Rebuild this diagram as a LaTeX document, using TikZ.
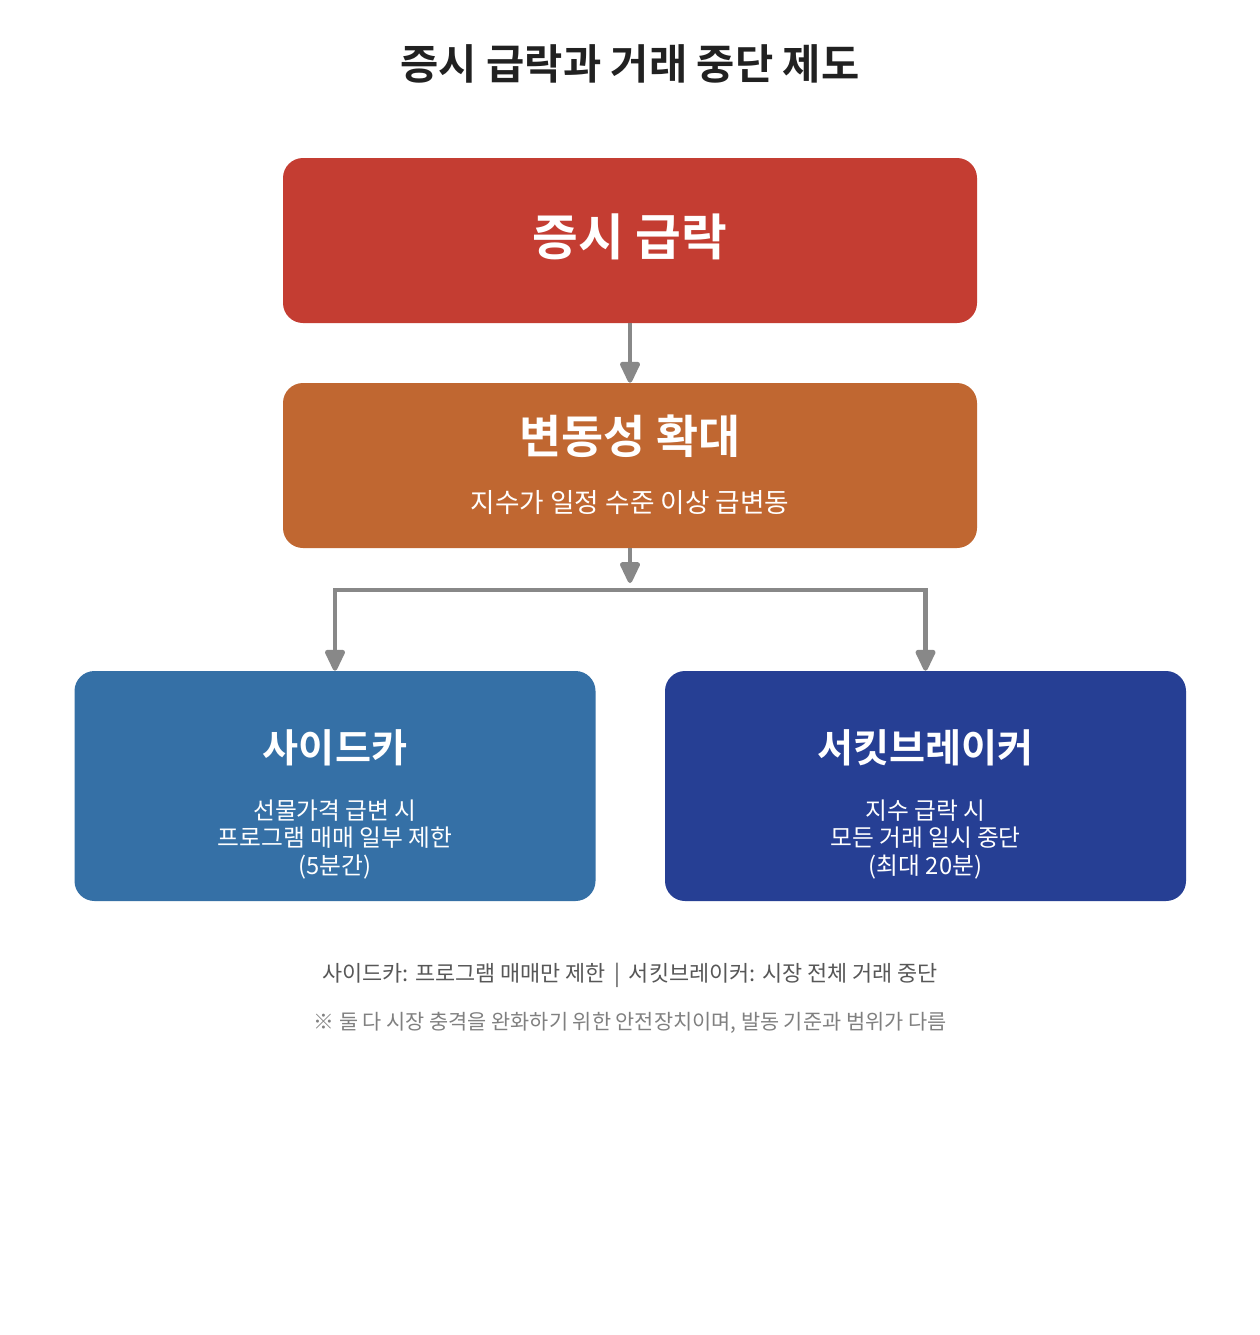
\documentclass[tikz,border=0pt]{standalone}
\usepackage{fontspec}
\setmainfont{Noto Sans CJK KR}[BoldFont={Noto Sans CJK KR Bold}]
\usepackage{tikz}
\usetikzlibrary{positioning, arrows.meta}
\definecolor{rojo}{HTML}{C43D32}
\definecolor{naranja}{HTML}{C06731}
\definecolor{azul}{HTML}{3570A6}
\definecolor{marino}{HTML}{263F94}
\definecolor{gris}{HTML}{888888}
\tikzset{flecha/.style={line width=3.3pt, draw=gris, -{Triangle[length=18pt, width=16pt, round]}}}
\tikzset{caja/.style={rectangle, rounded corners=15pt, draw=none, minimum width=520.5pt, minimum height=123.75pt}}
\tikzset{cajita/.style={rectangle, rounded corners=15pt, draw=none, minimum width=390.75pt, minimum height=172.5pt}}
\tikzset{texto/.style={text=white, align=center, inner sep=0pt}}

\begin{document}
\begin{tikzpicture}[
            x = 0.75pt,
            y = -0.75pt
        ]
            \useasboundingbox[fill=white] (0,0) rectangle (1260,1335);

            % titulo
            \node[inner sep=0pt, text=black!87, font=\fontsize{31.2pt}{36pt}\selectfont\bfseries] (titulo) at (630,64) {증시 급락과 거래 중단 제도};

            % cajas
            \node[caja, fill=rojo] (caida) at (630,240.5) {};
            \node[caja, fill=naranja] (volatil) at (630,465.5) {};
            \node[cajita, fill=azul] (sidecar) at (335,786) {};
            \node[cajita, fill=marino] (circuito) at (925.5,786) {};

            \node[texto, font=\fontsize{37.3pt}{44pt}\selectfont\bfseries] (caidat) at (630,237) {증시 급락};
            \node[texto, font=\fontsize{34.3pt}{40pt}\selectfont\bfseries] (volatilt) at (630,436) {변동성 확대};
            \node[texto, font=\fontsize{20pt}{24pt}\selectfont] (volatils) at (630,503) {지수가 일정 수준 이상 급변동};
            \node[texto, font=\fontsize{29.4pt}{35pt}\selectfont\bfseries] (sidecart) at (335,748) {사이드카};
            \node[texto, font=\fontsize{17.8pt}{20.6pt}\selectfont] (sidecars) at (335,839.5) {선물가격 급변 시\\프로그램 매매 일부 제한\\(5분간)};
            \node[texto, font=\fontsize{29.4pt}{35pt}\selectfont\bfseries] (circuitot) at (925.5,748) {서킷브레이커};
            \node[texto, font=\fontsize{17.8pt}{20.6pt}\selectfont] (circuitos) at (925.5,839.5) {지수 급락 시\\모든 거래 일시 중단\\(최대 20분)};

            % flechas
            \coordinate (ramal) at (630,583);
            \coordinate (bus) at (630,590);
            \draw[flecha] (caida) -- (volatil);
            \draw[flecha] (volatil) -- (ramal);
            \draw[line width=3.3pt, draw=gris, line cap=rect] (sidecar.north |- bus) -- (circuito.north |- bus);
            \draw[flecha] (sidecar.north |- bus) -- (sidecar.north);
            \draw[flecha] (circuito.north |- bus) -- (circuito.north);

            % notas
            \node[inner sep=0pt, text=black!66, font=\fontsize{16.4pt}{19pt}\selectfont] (nota) at (630,975.5) {사이드카: 프로그램 매매만 제한 \,|\, 서킷브레이커: 시장 전체 거래 중단};
            \node[inner sep=0pt, text=black!50, font=\fontsize{15.6pt}{18pt}\selectfont] (aviso) at (630,1023) {※ 둘 다 시장 충격을 완화하기 위한 안전장치이며, 발동 기준과 범위가 다름};
        \end{tikzpicture}
\end{document}
